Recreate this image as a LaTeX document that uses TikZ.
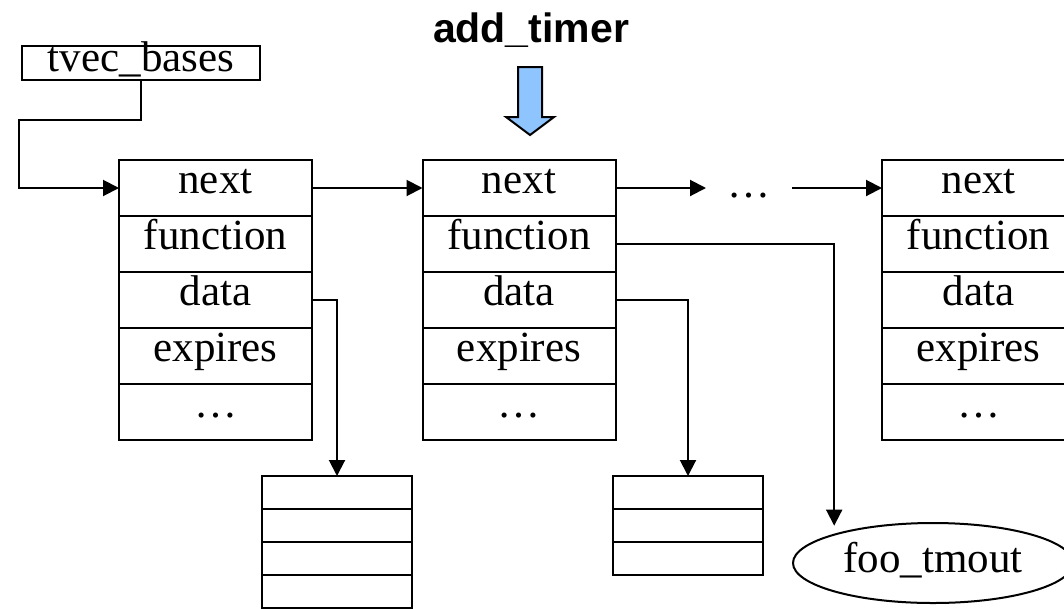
\documentclass[tikz,border=0pt]{standalone}
\usepackage{fontspec}
\setmainfont{Liberation Serif}
\newfontfamily\sansb{Liberation Sans}
\usetikzlibrary{arrows.meta,shapes.geometric}
\definecolor{arrowblue}{RGB}{143,197,255}
\newcommand{\bigserif}{\fontsize{43}{50}\selectfont}
\tikzset{
  row/.style={draw, line width=2pt, minimum width=193pt, minimum height=56pt,
    inner sep=0pt, outer sep=0pt, text height=20pt, text depth=9pt, font=\bigserif},
  cell/.style={draw, line width=2pt, minimum width=150pt, minimum height=33pt,
    inner sep=0pt, outer sep=0pt},
  conn/.style={line width=2pt, -{Triangle[length=16pt,width=16pt]}},
}
\begin{document}
\begin{tikzpicture}[x=1pt,y=-1pt]
\useasboundingbox (0,0) rectangle (1064,608);
% title
\node[font=\sansb\bfseries\fontsize{41}{48}\selectfont, anchor=base, inner sep=0pt] (title) at (531,42) {add\_timer};
% blue arrow
\draw[line width=2pt, fill=arrowblue, line join=miter]
  (518,67) -- (542,67) -- (542,117) -- (554,117) -- (530,135) -- (506,117) -- (518,117) -- cycle;
% tvec_bases
\node[draw, line width=2pt, minimum width=238pt, minimum height=34pt, inner sep=0pt, outer sep=0pt,
  text height=25pt, text depth=9pt, font=\bigserif] (tvec) at (141,63) {tvec\_bases};
% structs
\foreach \s/\x in {1/215.5, 2/519, 3/978.5} {
  \node[row] (s\s-n) at (\x,188) {next};
  \node[row] (s\s-f) at (\x,244) {function};
  \node[row] (s\s-d) at (\x,300) {data};
  \node[row] (s\s-e) at (\x,356) {expires};
  \node[row] (s\s-x) at (\x,412) {…};
}
% dots between
\node[inner sep=0pt, outer sep=0pt, minimum width=86pt, text height=20pt, text depth=2pt, font=\bigserif] (dots) at (749,188) {…};
% small boxes
\node[cell] (a1) at (337,492.5) {};
\node[cell] (a2) at (337,525.5) {};
\node[cell] (a3) at (337,558.5) {};
\node[cell] (a4) at (337,591.5) {};
\node[cell] (b1) at (688,492.5) {};
\node[cell] (b2) at (688,525.5) {};
\node[cell] (b3) at (688,558.5) {};
% ellipse
\node[draw, ellipse, line width=2pt, minimum width=280pt, minimum height=80pt, inner sep=0pt, outer sep=0pt,
  text height=26pt, text depth=8pt, font=\bigserif] (foo) at (933,563) {foo\_tmout};
% connectors
\coordinate (c1) at (19,120);
\draw[conn] (tvec.south) |- (c1) |- (s1-n.west);
\draw[conn] (s1-n.east) -- (s2-n.west);
\draw[conn] (s2-n.east) -- (dots.west);
\draw[conn] (dots.east) -- (s3-n.west);
\draw[conn] (s1-d.east) -| (a1.north);
\draw[conn] (s2-d.east) -| (b1.north);
\draw[conn, shorten >=9pt] (s2-f.east) -| (foo.164);
\end{tikzpicture}
\end{document}
